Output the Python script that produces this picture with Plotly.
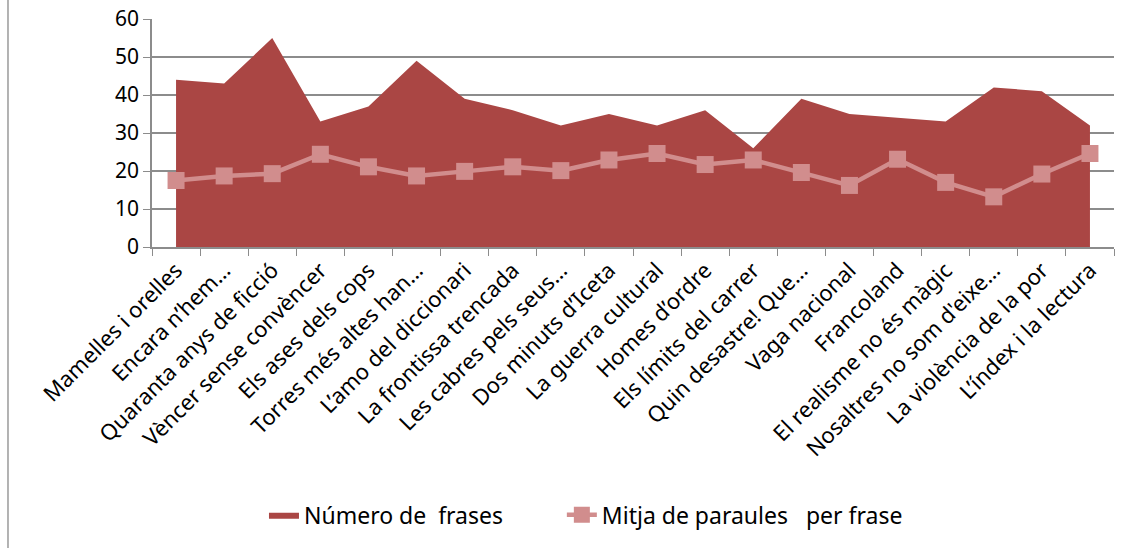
import plotly.graph_objects as go

categories = [
    "Mamelles i orelles", "Encara n\u2019hem\u2026", "Quaranta anys de ficci\u00f3",
    "V\u00e8ncer sense conv\u00e8ncer", "Els ases dels cops", "Torres m\u00e9s altes han\u2026",
    "L\u2019amo del diccionari", "La frontissa trencada", "Les cabres pels seus\u2026",
    "Dos minuts d\u2019Iceta", "La guerra cultural", "Homes d\u2019ordre",
    "Els l\u00edmits del carrer", "Quin desastre! Que\u2026", "Vaga nacional",
    "Francoland", "El realisme no \u00e9s m\u00e0gic", "Nosaltres no som d'eixe\u2026",
    "La viol\u00e8ncia de la por", "L\u2019\u00edndex i la lectura",
]
num_frases = [44, 43, 55, 33, 37, 49, 39, 36, 32, 35, 32, 36, 26, 39, 35, 34, 33, 42, 41, 32]
mitja_paraules = [17.5, 18.7, 19.3, 24.4, 21.1, 18.7, 19.9, 21.1, 20.1, 22.9,
                  24.6, 21.7, 22.9, 19.6, 16.2, 23.1, 17.0, 13.2, 19.2, 24.6]

FONT = "Noto Sans"
GRID = "#8c8c8c"

fig = go.Figure()
fig.add_trace(go.Scatter(
    x=categories, y=num_frases, name="N\u00famero de\u00a0 frases" + "\u00a0" * 9,
    mode="lines", fill="tozeroy", line=dict(width=0, color="#AA4644"),
    fillcolor="#AA4644",
))
fig.add_trace(go.Scatter(
    x=categories, y=mitja_paraules, name="Mitja de paraules\u00a0\u00a0 per frase",
    mode="lines+markers", line=dict(width=4.5, color="#D18D8D"),
    marker=dict(symbol="square", size=17, color="#D18D8D"),
))

fig.update_layout(
    width=1137, height=548,
    margin=dict(l=152, r=23, t=19, b=301),
    paper_bgcolor="white", plot_bgcolor="white",
    font=dict(family=FONT, size=20, color="black"),
    showlegend=True,
    legend=dict(orientation="h", x=0.1164, xanchor="left", y=-1.175, yanchor="middle",
                font=dict(size=23), traceorder="normal"),
    xaxis=dict(
        type="category", tickangle=-45, tickson="boundaries", ticks="outside",
        ticklen=7, tickcolor=GRID, showline=True, linecolor=GRID, linewidth=1.5,
        showgrid=False, tickfont=dict(size=22), range=[-0.5, 19.5], automargin=False,
    ),
    yaxis=dict(
        range=[0, 60], dtick=10, ticks="outside", ticklen=7, tickcolor=GRID,
        showline=True, linecolor=GRID, linewidth=1.5, showgrid=True,
        gridcolor=GRID, gridwidth=1.5, tickfont=dict(size=21), zeroline=False,
        automargin=False,
    ),
    shapes=[dict(type="line", xref="paper", yref="paper", x0=-0.1497, x1=-0.1497,
                 y0=-2, y1=1.2, line=dict(color="#9a9a9a", width=1.5))],
)

fig.write_html("out.html", config={"displayModeBar": False},
               post_script="document.body.style.margin='0';")
